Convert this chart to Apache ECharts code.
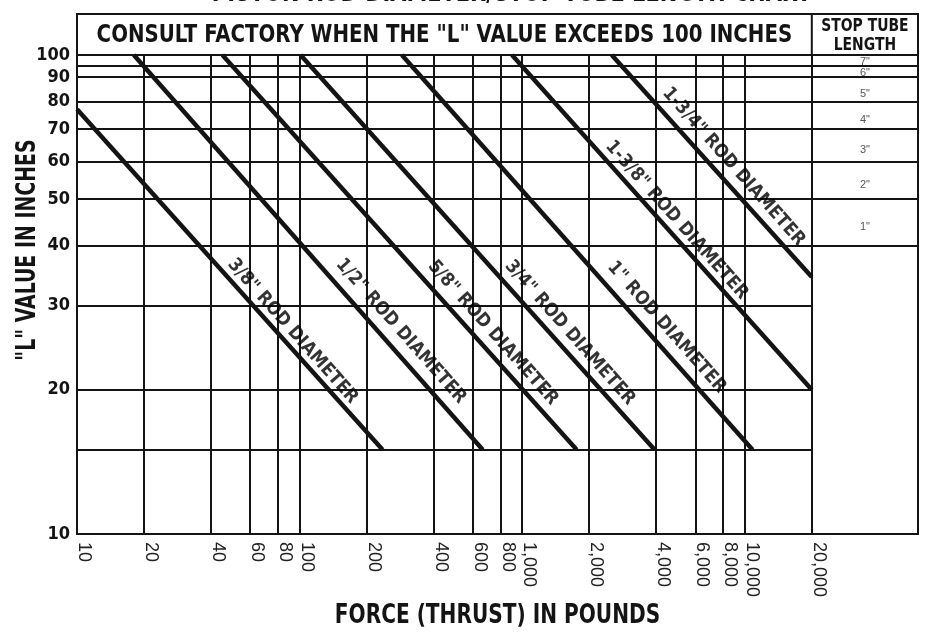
<!DOCTYPE html>
<html><head><meta charset="utf-8">
<script src="https://cdn.jsdelivr.net/npm/echarts@6/dist/echarts.min.js"></script>
<style>html,body{margin:0;padding:0;background:#fff}#c{width:925px;height:633px}</style>
</head><body><div id="c"></div>
<script>
// ---- data ----
const xTicks = [10,20,40,60,80,100,200,400,600,800,1000,2000,4000,6000,8000,10000,20000];
const xTickLabels = ['10','20','40','60','80','100','200','400','600','800','1,000','2,000','4,000','6,000','8,000','10,000','20,000'];
const yTicks = [10,20,30,40,50,60,70,80,90,100];
const vGrid = [20,40,60,80,100,200,400,600,800,1000,2000,4000,6000,8000,10000,20000];
const hGridFull = [95,90,80,70,60,50,40];
const hGridPartial = [30,20,15];
const rodNames = ['3/8"','1/2"','5/8"','3/4"','1"','1-3/8"','1-3/4"'];
const rodStartForce = [10,18,45,101,288,900,2525];
const rodStartL = [77,100,100,100,100,100,100];
const rodEndForce = [236,665,1758,3936,10840,20000,20000];
const rodEndL = [15,15,15,15,15,20,34.4];
const labelForce = [93,285,738,1637,4457,4943,8913];
const labelL = [26.5,26.5,26.3,26.3,27.0,45.2,58.4];
const stopTubeLabels = ['7"','6"','5"','4"','3"','2"','1"'];
const stopTubeUpper = [100,95,90,80,70,60,50];
const stopTubeLower = [95,90,80,70,60,50,40];
const xMin = 10, xMax = 60000, yMin = 10, yMax = 100;
const stopTubeEdge = 20000;

const NARROW = '"Liberation Sans Narrow","DejaVu Sans Condensed",sans-serif';
const REG = '"Liberation Sans",Arial,sans-serif';
const INK = '#141414';

const chart = echarts.init(document.getElementById('c'), null, {renderer:'canvas'});

const gridLines = [];
vGrid.forEach(v => gridLines.push([{coord:[v,yMin]},{coord:[v,yMax]}]));
hGridFull.forEach(v => gridLines.push([{coord:[xMin,v]},{coord:[xMax,v]}]));
hGridPartial.forEach(v => gridLines.push([{coord:[xMin,v]},{coord:[stopTubeEdge,v]}]));

const series = [{
  type:'line', data:[], silent:true, animation:false,
  markLine:{silent:true, animation:false, symbol:['none','none'], label:{show:false},
    lineStyle:{type:'solid', color:INK, width:2}, emphasis:{disabled:true}, data:gridLines}
}];
rodNames.forEach((n,i) => series.push({
  type:'line', name:n, silent:true, animation:false, showSymbol:false, symbol:'none', z:5,
  lineStyle:{color:INK, width:4.5},
  data:[[rodStartForce[i], rodStartL[i]],[rodEndForce[i], rodEndL[i]]]
}));
series.push({
  type:'scatter', silent:true, animation:false, symbolSize:0, z:6,
  data: labelForce.map((f,i)=>[f, labelL[i], rodNames[i] + ' ROD DIAMETER']),
  label:{show:true, position:'inside', formatter:p=>p.data[2], rotate:-48.5,
    color:'#000', fontFamily:NARROW, fontWeight:'bold', fontSize:18.5}
});

function fmtX(v){
  let best=0, bd=1e9;
  xTicks.forEach((t,i)=>{const d=Math.abs(Math.log(v/t)); if(d<bd){bd=d;best=i;}});
  return xTickLabels[best];
}

const option = {
  backgroundColor:'#fff',
  animation:false,
  grid:{left:77, top:55, width:841, height:479, show:true, borderColor:INK, borderWidth:2, backgroundColor:'transparent'},
  xAxis:{type:'log', logBase:10, min:xMin, max:xMax,
    axisLine:{show:false}, axisTick:{show:false}, splitLine:{show:false}, minorTick:{show:false},
    axisLabel:{customValues:xTicks, formatter:fmtX, rotate:-90, margin:8, verticalAlign:'bottom', lineHeight:14, color:'#222', fontFamily:REG, fontSize:18, showMinLabel:true, showMaxLabel:true}
  },
  yAxis:{type:'log', logBase:10, min:yMin, max:yMax,
    axisLine:{show:false}, axisTick:{show:false}, splitLine:{show:false}, minorTick:{show:false},
    axisLabel:{customValues:yTicks, formatter:v=>String(Math.round(v)), margin:7, color:INK, fontFamily:NARROW, fontWeight:'bold', fontSize:18, showMinLabel:true, showMaxLabel:true}
  },
  series
};
chart.setOption(option);

function px(f,l){ return chart.convertToPixel({gridIndex:0},[f,l]); }
const tl = px(xMin,yMax), tr = px(xMax,yMax), dv = px(stopTubeEdge,yMax), bl = px(xMin,yMin);
const headerTop = 14;
const g = [];
g.push({type:'rect', shape:{x:tl[0], y:headerTop, width:tr[0]-tl[0], height:tl[1]-headerTop}, style:{fill:'none', stroke:INK, lineWidth:2}, z:10});
g.push({type:'line', shape:{x1:dv[0], y1:headerTop, x2:dv[0], y2:tl[1]}, style:{stroke:INK, lineWidth:2}, z:10});
g.push({type:'text', x:(tl[0]+dv[0])/2, y:(headerTop+tl[1])/2+1, scaleX:0.88, style:{text:'CONSULT FACTORY WHEN THE "L" VALUE EXCEEDS 100 INCHES', align:'center', verticalAlign:'middle', font:'bold 25px '+NARROW, fill:INK}, z:10});
g.push({type:'text', x:(dv[0]+tr[0])/2, y:(headerTop+tl[1])/2+1, scaleX:0.86, style:{text:'STOP TUBE\nLENGTH', align:'center', verticalAlign:'middle', font:'bold 18px '+NARROW, lineHeight:19, fill:INK}, z:10});
stopTubeLabels.forEach((s,i)=>{
  const y1 = px(stopTubeEdge, stopTubeUpper[i])[1], y2 = px(stopTubeEdge, stopTubeLower[i])[1];
  g.push({type:'text', x:(dv[0]+tr[0])/2, y:(y1+y2)/2 + (i<2?2:5), style:{text:s, align:'center', verticalAlign:'middle', font:'11px '+REG, fill:'#555'}, z:10});
});
g.push({type:'text', x:28, y:250, rotation:Math.PI/2, scaleX:0.81, style:{text:'"L" VALUE IN INCHES', align:'center', verticalAlign:'middle', font:'bold 26px '+NARROW, fill:INK}, z:10});
g.push({type:'text', x:(tl[0]+tr[0])/2, y:bl[1]+82, scaleX:0.86, style:{text:'FORCE (THRUST) IN POUNDS', align:'center', verticalAlign:'middle', font:'bold 26px '+NARROW, fill:INK}, z:10});
g.push({type:'text', x:(tl[0]+tr[0])/2+14, y:7, scaleX:0.86, style:{text:'PISTON ROD DIAMETER/STOP TUBE LENGTH CHART', align:'center', verticalAlign:'bottom', font:'bold 27px '+NARROW, fill:INK}, z:10});
chart.setOption({graphic:g});
</script>
</body></html>
